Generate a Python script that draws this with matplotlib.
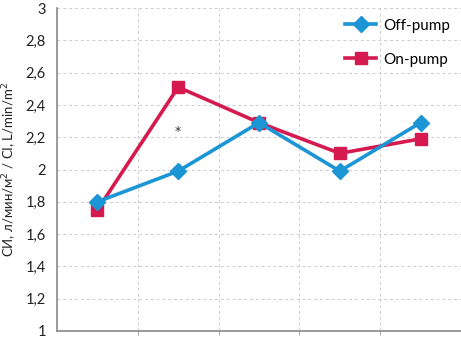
import matplotlib
matplotlib.use("Agg")
import matplotlib.pyplot as plt
from matplotlib.ticker import FuncFormatter

categories = [1, 2, 3, 4, 5]
off_pump = [1.80, 1.99, 2.29, 1.99, 2.29]
on_pump = [1.75, 2.51, 2.29, 2.10, 2.19]
yticks = [1.0, 1.2, 1.4, 1.6, 1.8, 2.0, 2.2, 2.4, 2.6, 2.8, 3.0]

plt.rcParams['font.family'] = ['Lato', 'DejaVu Sans']

fig = plt.figure(figsize=(4.61, 3.37), dpi=100)
ax = fig.add_axes([57/461, 6/337, 1 - 57/461, (331-8)/337])

blue = '#1b95d3'
red = '#d51a4f'

ax.plot(categories, off_pump, color=blue, lw=2.6, marker='D', ms=8, label='Off-pump', zorder=4)
ax.plot(categories, on_pump, color=red, lw=2.6, marker='s', ms=8, label='On-pump', zorder=3)
ax.text(2, 2.235, '*', ha='center', va='center', fontsize=9, color='#333333', family='DejaVu Sans')

ax.set_xlim(0.5, 5.5)
ax.set_ylim(1, 3)
ax.set_yticks(yticks)
ax.yaxis.set_major_formatter(FuncFormatter(lambda v, p: ('%g' % round(v, 1)).replace('.', ',')))
ax.set_xticks([1.5, 2.5, 3.5, 4.5])
ax.set_xticklabels([])
ax.tick_params(axis='x', length=3, color='#aaaaaa')
ax.tick_params(axis='y', length=0, labelsize=10.5, pad=8, colors='#222222')

ax.grid(True, axis='y', ls=(0, (3, 3)), color='#cccccc', lw=0.7)
ax.grid(True, axis='x', ls=(0, (3, 3)), color='#cccccc', lw=0.7)
ax.set_axisbelow(True)

for s in ['top', 'right']:
    ax.spines[s].set_visible(False)
for s in ['left', 'bottom']:
    ax.spines[s].set_color('#888888')
    ax.spines[s].set_linewidth(1.2)

ax.set_ylabel('СИ, л/мин/м$^2$ / CI, L/min/m$^2$', fontsize=9.5, labelpad=5, color='#222222')

leg = ax.legend(loc='upper right', frameon=False, fontsize=11, handlelength=2.0,
                labelspacing=1.3, bbox_to_anchor=(1.0, 1.0), borderaxespad=0.3,
                handletextpad=0.5)

fig.savefig('out.png', dpi=100)
